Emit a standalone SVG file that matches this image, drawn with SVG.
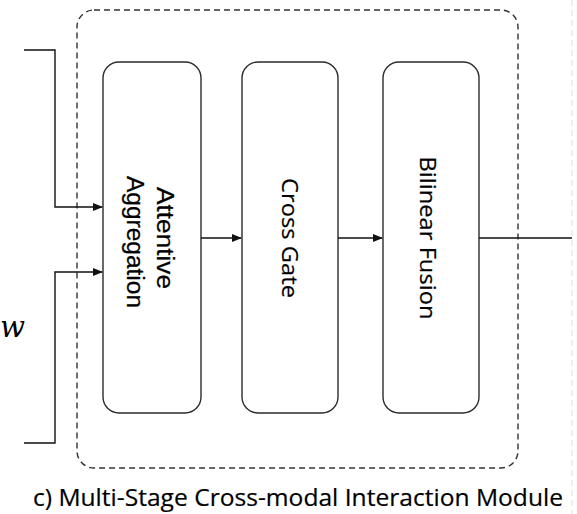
<svg xmlns="http://www.w3.org/2000/svg" width="577" height="514" viewBox="0 0 577 514">
<style>
.box{fill:#fff;stroke:#2b2b2b;stroke-width:1.4}
.lbl{font-family:"Liberation Sans",Arial,sans-serif;font-size:23px;fill:#000;stroke:#000;stroke-width:0.25;text-anchor:middle}
.lbl2{font-family:"Open Sans","Noto Sans",sans-serif;font-size:22px;fill:#000;stroke:#000;stroke-width:0.2;text-anchor:middle}
.con{fill:none;stroke:#111;stroke-width:1.4}
</style>
<defs>
<marker id="ah" markerWidth="10" markerHeight="8" refX="9" refY="4" orient="auto" markerUnits="userSpaceOnUse">
<path d="M0,0 L10,4 L0,8 Z" fill="#111"/>
</marker>
</defs>
<rect width="577" height="514" fill="#fff"/>
<line x1="572" y1="0" x2="572" y2="514" stroke="#dcdcdc" stroke-width="1" stroke-dasharray="6,4"/>
<g id="container">
<rect x="77" y="10" width="441" height="458" rx="17" ry="17" fill="none" stroke="#333" stroke-width="1.4" stroke-dasharray="6,4"/>
</g>
<g id="attentive-aggregation">
<rect class="box" x="103" y="62" width="98" height="351" rx="16" ry="16"/>
<text class="lbl" transform="translate(157,238) rotate(90)" textLength="102" lengthAdjust="spacingAndGlyphs">Attentive</text>
<text class="lbl" transform="translate(127,242) rotate(90)" textLength="132" lengthAdjust="spacingAndGlyphs">Aggregation</text>
</g>
<g id="cross-gate">
<rect class="box" x="242" y="62" width="96" height="351" rx="16" ry="16"/>
<text class="lbl2" transform="translate(282,238) rotate(90)" textLength="120" lengthAdjust="spacingAndGlyphs">Cross Gate</text>
</g>
<g id="bilinear-fusion">
<rect class="box" x="383" y="62" width="96" height="351" rx="16" ry="16"/>
<text class="lbl2" transform="translate(420,238) rotate(90)" textLength="163" lengthAdjust="spacingAndGlyphs">Bilinear Fusion</text>
</g>
<g id="connectors">
<path class="con" d="M24,50 H55 V207 H102" marker-end="url(#ah)"/>
<path class="con" d="M24,443 H55 V272 H102" marker-end="url(#ah)"/>
<path class="con" d="M201,238 H241" marker-end="url(#ah)"/>
<path class="con" d="M338,238 H382" marker-end="url(#ah)"/>
<path class="con" d="M479,238 H572"/>
</g>
<g id="w-label">
<text x="0" y="337" font-family="'DejaVu Serif','Liberation Serif',serif" font-style="italic" font-size="30" fill="#000" textLength="25" lengthAdjust="spacingAndGlyphs">w</text>
</g>
<g id="caption">
<text x="33" y="506" font-family="'Open Sans','Noto Sans',sans-serif" font-size="24" fill="#000" stroke="#000" stroke-width="0.2" textLength="530" lengthAdjust="spacingAndGlyphs">c) Multi-Stage Cross-modal Interaction Module</text>
</g>
</svg>
